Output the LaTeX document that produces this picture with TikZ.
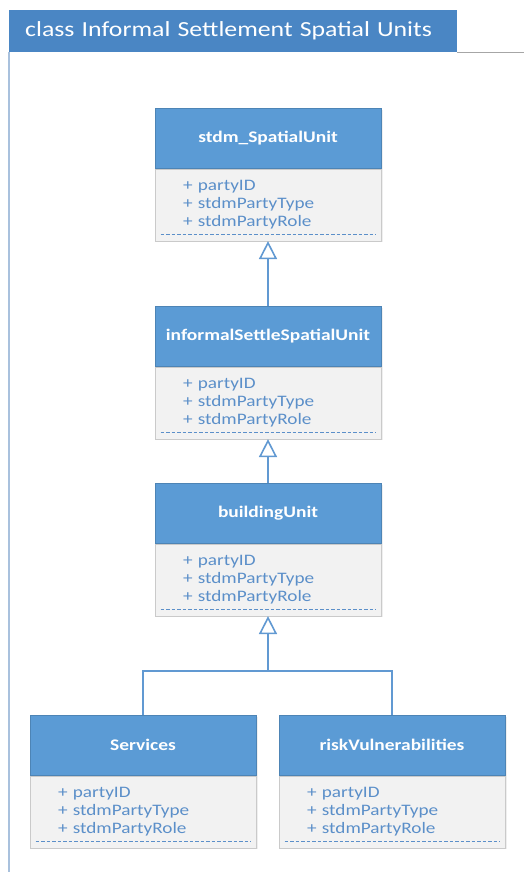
\documentclass[tikz,border=0pt]{standalone}
\usepackage{fontspec}
\setmainfont{Carlito}[FakeStretch=1.2]
\usetikzlibrary{arrows.meta,shadows,positioning}

\definecolor{tabblue}{HTML}{4A86C4}
\definecolor{hdrblue}{HTML}{5B9BD5}
\definecolor{linkblue}{HTML}{6199D2}
\definecolor{bodygray}{HTML}{F2F2F2}
\definecolor{bodyedge}{HTML}{CACACA}
\definecolor{attrblue}{HTML}{5B8FC9}
\definecolor{frameline}{HTML}{A9C1DD}

\tikzset{
  tabbox/.style={rectangle, fill=tabblue, text=white, anchor=north west,
    minimum width=448pt, minimum height=42pt, inner xsep=16pt, inner ysep=0pt,
    text width=416pt, align=left, font=\fontsize{21.5}{23}\selectfont},
  hdr/.style={rectangle, fill=hdrblue, draw=hdrblue!85!black, line width=0.5pt,
    text=white, anchor=north, minimum width=226pt, minimum height=60pt,
    inner sep=0pt, font=\bfseries\fontsize{16.2}{18}\selectfont,
    drop shadow={opacity=0.12, shadow xshift=1.5pt, shadow yshift=-1.5pt}},
  attrs/.style={rectangle, fill=bodygray, draw=bodyedge, line width=0.6pt,
    text=attrblue, anchor=north, minimum height=72pt, text width=198pt,
    inner xsep=14pt, inner ysep=0pt, align=left,
    font=\fontsize{16}{18}\selectfont,
    drop shadow={opacity=0.12, shadow xshift=1.5pt, shadow yshift=-1.5pt}},
  sepline/.style={draw=attrblue, dash pattern=on 3.5pt off 2pt, line width=1pt},
  inherit/.style={draw=linkblue, line width=1.8pt,
    -{Triangle[open, width=18pt, length=18pt, line width=1.6pt]}},
  link/.style={draw=linkblue, line width=1.8pt}
}

% one UML class: header with the class name, attribute compartment below it
\newcommand{\umlclass}[4]{%
  \node[hdr] (#1) at (#2,#3) {#4};
  \node[attrs, below=0pt of #1.south] (#1-body)
    {\hspace*{14pt}+ partyID\\\hspace*{14pt}+ stdmPartyType\\\hspace*{14pt}+ stdmPartyRole\\[3pt]};
  \draw[sepline] ([xshift=6pt, yshift=7pt]#1-body.south west) -- ([xshift=-6pt, yshift=7pt]#1-body.south east);
}

\begin{document}
\begin{tikzpicture}[x=1pt, y=-1pt]
\useasboundingbox (0,0) rectangle (524,872);
\fill[white] (0,0) rectangle (524,872);

% diagram frame with its title tab
\draw[frameline, line width=1.2pt] (9,52) -- (9,872);
\draw[black!35, line width=0.9pt] (457,52) -- (524,52);
\node[tabbox] (tab) at (9,10) {class Informal Settlement Spatial Units};

% classes
\umlclass{spatial}{268}{108}{stdm\_SpatialUnit}
\umlclass{informal}{268}{306}{informalSettleSpatialUnit}
\umlclass{building}{268}{483}{buildingUnit}
\umlclass{services}{143}{715}{Services}
\umlclass{risk}{392}{715}{riskVulnerabilities}

% generalisations
\draw[inherit] (informal.north) -- (spatial-body.south);
\draw[inherit] (building.north) -- (informal-body.south);
\coordinate (join) at (268,671);
\draw[link] (services.north) |- (join) -| (risk.north);
\draw[inherit] (join) -- (building-body.south);
\end{tikzpicture}
\end{document}
